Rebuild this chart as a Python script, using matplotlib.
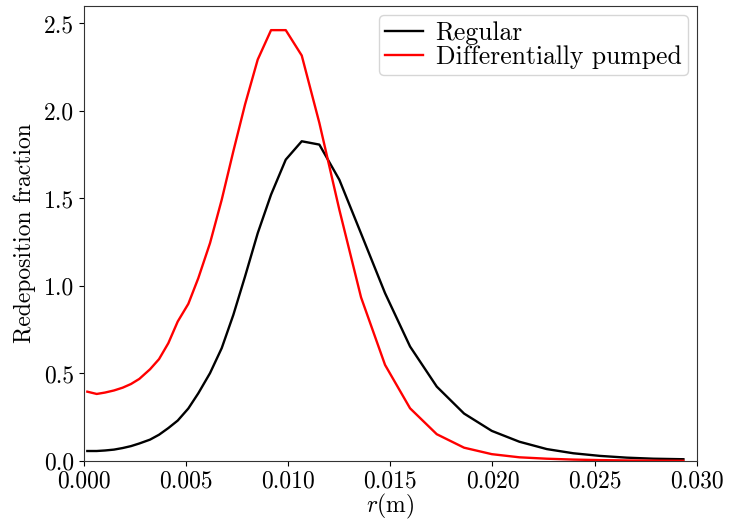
import numpy as np
import matplotlib
matplotlib.use("Agg")
import matplotlib.pyplot as plt

matplotlib.rcParams.update({
    "font.family": "serif",
    "font.serif": ["cmr10"],
    "mathtext.fontset": "cm",
    "axes.formatter.use_mathtext": True,
    "font.size": 17,
})

# radial grid (m) and redeposition fractions
r = [0.000162, 0.000622, 0.001028, 0.001469, 0.001895, 0.002302, 0.002708,
     0.003232, 0.003673, 0.004128, 0.004589, 0.005108, 0.005597, 0.006170,
     0.006743, 0.007312, 0.007884, 0.008506, 0.009158, 0.009878, 0.010661,
     0.011523, 0.012502, 0.013565, 0.014740, 0.015965, 0.017272, 0.018609,
     0.019966, 0.021317, 0.022659, 0.023962, 0.025269, 0.026577, 0.027879,
     0.029349]

regular = [0.057, 0.057, 0.060, 0.065, 0.074, 0.085, 0.100, 0.122, 0.150,
           0.188, 0.231, 0.300, 0.387, 0.502, 0.645, 0.835, 1.054, 1.302,
           1.522, 1.722, 1.827, 1.808, 1.607, 1.300, 0.959, 0.654, 0.425,
           0.271, 0.172, 0.110, 0.068, 0.044, 0.029, 0.019, 0.013, 0.010]

diff_pumped = [0.396, 0.383, 0.391, 0.403, 0.419, 0.440, 0.469, 0.524, 0.582,
               0.673, 0.797, 0.898, 1.045, 1.245, 1.493, 1.770, 2.037, 2.294,
               2.462, 2.462, 2.317, 1.932, 1.436, 0.935, 0.549, 0.301, 0.153,
               0.076, 0.039, 0.021, 0.013, 0.008, 0.005, 0.003, 0.002, 0.001]

fig = plt.figure(figsize=(7.35, 5.21), dpi=100)
ax = fig.add_axes([0.1143, 0.1152, 0.8336, 0.8733])

ax.plot(r, regular, color="black", linewidth=1.7, label="Regular")
ax.plot(r, diff_pumped, color="red", linewidth=1.7, label="Differentially pumped")

ax.set_xlim(0, 0.03)
ax.set_ylim(0, 2.6)
ax.set_xticks(np.arange(0, 0.0301, 0.005))
ax.set_yticks(np.arange(0, 2.51, 0.5))
ax.xaxis.set_major_formatter(plt.FuncFormatter(lambda x, p: f"{x:.3f}"))
ax.yaxis.set_major_formatter(plt.FuncFormatter(lambda y, p: f"{y:.1f}"))
for s in ax.spines.values():
    s.set_color("#333333")

ax.set_xlabel("$r$(m)", labelpad=-1)
ax.set_ylabel("Redeposition fraction", labelpad=6)
ax.legend(loc="upper right", fontsize=18.5, handlelength=1.45, borderpad=0.25,
          labelspacing=0.0, handletextpad=0.5, borderaxespad=0.35)

fig.savefig("out.png", dpi=100)
